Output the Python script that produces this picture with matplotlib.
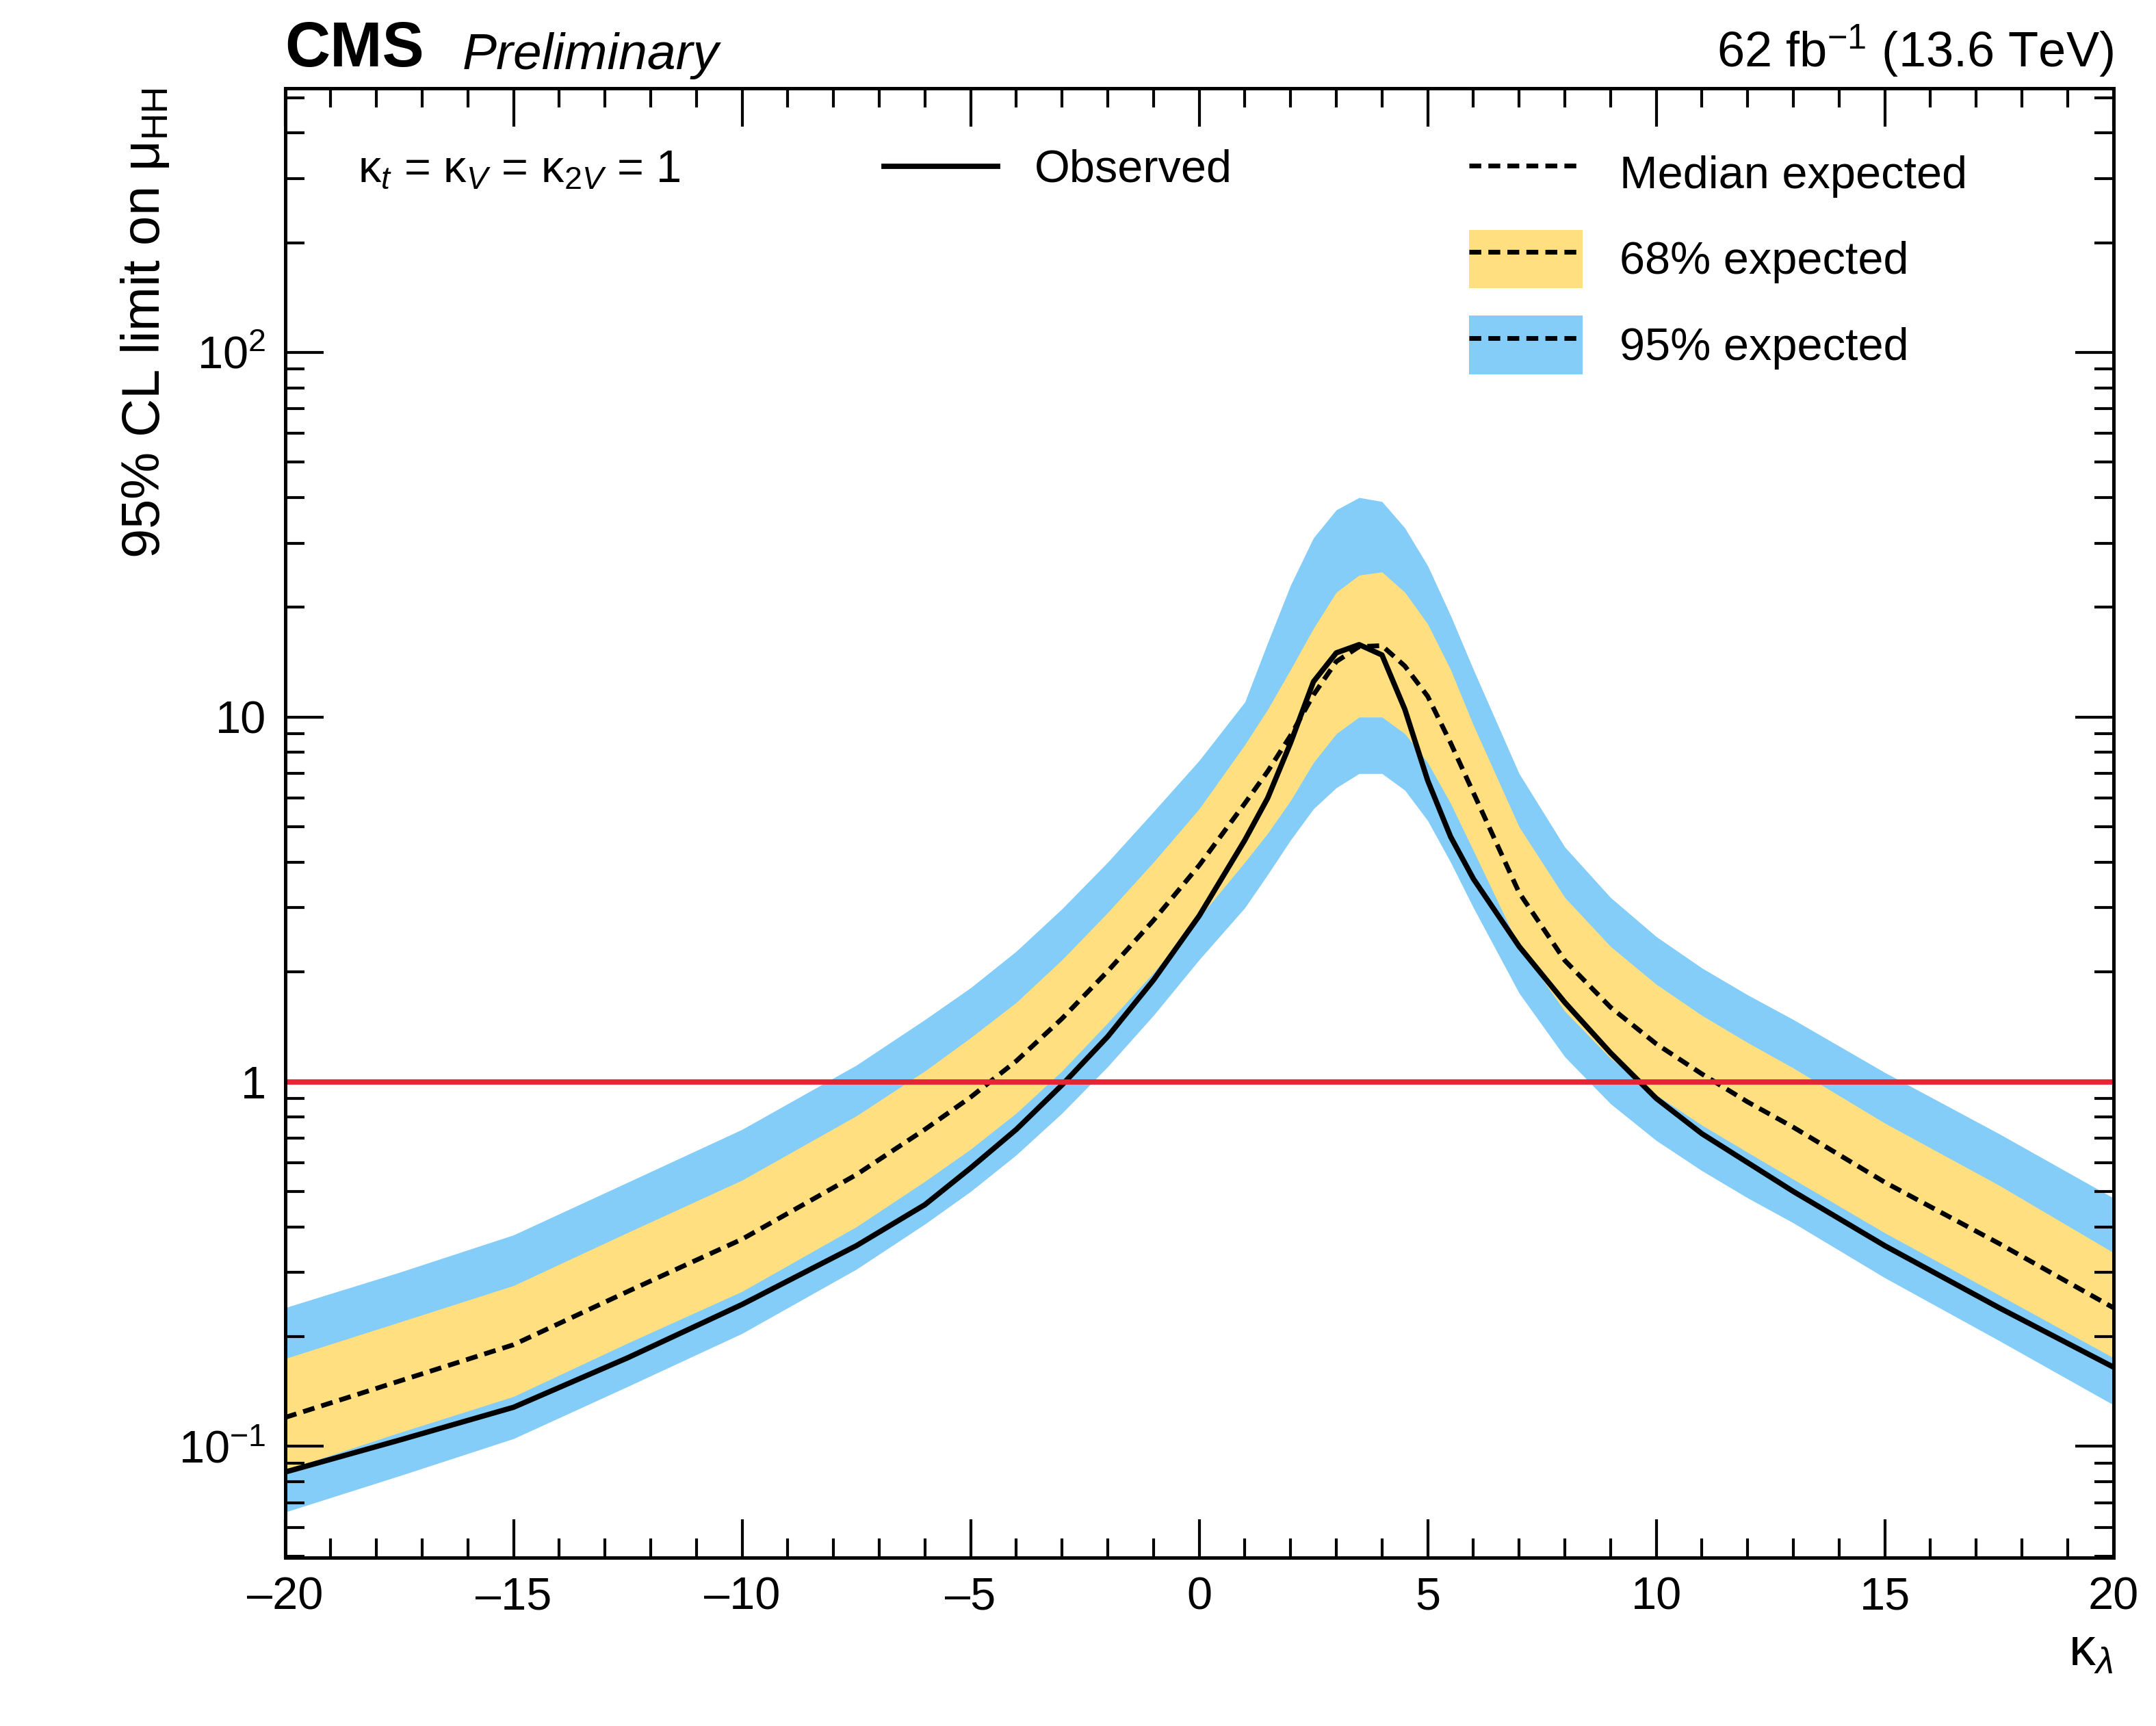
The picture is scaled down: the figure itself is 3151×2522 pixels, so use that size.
"""
"""

import numpy as np
import matplotlib.pyplot as plt
from matplotlib.lines import Line2D
from matplotlib.patches import Patch
from matplotlib.ticker import FixedLocator, FixedFormatter, LogLocator, MultipleLocator, NullFormatter

#Valores de kappa lambda
kl = [-20, -17.5, -15, -12.5, -10, -7.5, -6, -5, -4, -3, -2, -1, 0, 1, 1.5, 2, 2.5, 3, 3.5, 4, 4.5,
      5, 5.5, 6, 7, 8, 9, 10, 11, 12, 13, 15, 17.5, 20]

observed = [0.085, 0.104, 0.128, 0.175, 0.245, 0.355, 0.46, 0.58, 0.74, 0.98, 1.33, 1.9, 2.85, 4.6,
            6.0, 8.5, 12.5, 15.0, 15.8, 14.8, 10.5, 6.7, 4.7, 3.6, 2.35, 1.65, 1.2, 0.9, 0.72, 0.6,
            0.5, 0.355, 0.24, 0.165]
expected = [0.12, 0.151, 0.19, 0.266, 0.37, 0.556, 0.74, 0.907, 1.14, 1.49, 2.01, 2.77, 3.92, 5.8,
            7.1, 8.9, 11.5, 14.2, 15.6, 15.7, 13.8, 11.4, 8.5, 6.2, 3.3, 2.15, 1.6, 1.27, 1.05, 0.88,
            0.75, 0.53, 0.36, 0.24]
up68 = [0.174, 0.219, 0.276, 0.386, 0.537, 0.806, 1.07, 1.32, 1.65, 2.16, 2.91, 4.0, 5.6, 8.4, 10.5,
        13.5, 17.5, 22, 24.5, 25, 22, 18, 13.5, 9.5, 5.0, 3.2, 2.35, 1.85, 1.52, 1.28, 1.09, 0.77,
        0.52, 0.34]
down68 = [0.086, 0.109, 0.137, 0.192, 0.266, 0.40, 0.533, 0.653, 0.82, 1.07, 1.45, 1.99, 2.82, 4.0,
          4.8, 5.9, 7.5, 9.0, 10, 10, 9.0, 7.5, 5.8, 4.3, 2.35, 1.56, 1.16, 0.92, 0.76, 0.64, 0.54,
          0.385, 0.26, 0.175]
up95 = [0.24, 0.30, 0.38, 0.53, 0.74, 1.11, 1.48, 1.81, 2.28, 2.98, 4.0, 5.5, 7.6, 11, 16, 23, 31,
        37, 40, 39, 33, 26, 19, 13.5, 7.0, 4.4, 3.2, 2.5, 2.05, 1.73, 1.48, 1.06, 0.72, 0.48]
down95 = [0.066, 0.083, 0.105, 0.146, 0.204, 0.306, 0.407, 0.50, 0.63, 0.82, 1.1, 1.52, 2.16, 3.0,
          3.7, 4.6, 5.6, 6.4, 7.0, 7.0, 6.3, 5.2, 4.0, 3.0, 1.75, 1.17, 0.87, 0.69, 0.57, 0.48, 0.41,
          0.29, 0.195, 0.13]

plt.rcParams['font.family'] = ['Liberation Sans', 'DejaVu Sans']
plt.rcParams['mathtext.fontset'] = 'custom'
plt.rcParams['mathtext.rm'] = 'Liberation Sans'
plt.rcParams['mathtext.it'] = 'Liberation Sans:italic'


def LimitPlot(output_file):

    '''
    LimitPlot dibuja el limite al 95% CL sobre mu_HH en funcion de kappa lambda.

    Argumentos de la funcion:
    output_file (string): nombre del archivo PNG que crearemos.
    '''

    fig = plt.figure(figsize=(15.755, 12.61), dpi=200)
    ax = fig.add_axes([0.1322, 0.0975, 0.848, 0.8515])

    ax.fill_between(kl, down95, up95, color='#85cdf9', lw=0) #Banda 95%
    ax.fill_between(kl, down68, up68, color='#ffdf80', lw=0) #Banda 68%
    ax.plot(kl, expected, color='black', ls=(0, (2.5, 1.5)), lw=2.5)
    ax.plot(kl, observed, color='black', lw=2.8)
    ax.axhline(1, color='#e42536', lw=2.8)

    ax.set_yscale('log')
    ax.set_xlim(-20, 20)
    ax.set_ylim(0.0495, 531)

    #Ejes al estilo CMS
    ax.xaxis.set_major_locator(MultipleLocator(5))
    ax.xaxis.set_minor_locator(MultipleLocator(1))
    ax.xaxis.set_major_formatter(plt.FuncFormatter(lambda v, p: ('%d' % v).replace('-', '\u2013')))
    ax.yaxis.set_major_locator(FixedLocator([0.1, 1, 10, 100]))
    ax.yaxis.set_major_formatter(FixedFormatter([r'$10^{-1}$', '1', '10', r'$10^{2}$']))
    ax.yaxis.set_minor_locator(LogLocator(subs=np.arange(2, 10)))
    ax.yaxis.set_minor_formatter(NullFormatter())
    ax.tick_params(which='both', direction='in', top=True, right=True, labelsize=24, width=1.5)
    ax.tick_params(which='major', length=20, pad=10)
    ax.tick_params(which='minor', length=10)
    for s in ax.spines.values():
        s.set_linewidth(1.8)

    ax.set_xlabel('κ$_{λ}$', fontsize=28, loc='right')
    ax.set_ylabel('95% CL limit on μ$_{\\mathrm{HH}}$', fontsize=28, loc='top')

    ax.text(0, 1.006, 'CMS', transform=ax.transAxes, fontsize=33, fontweight='bold', va='bottom')
    ax.text(0.097, 1.006, 'Preliminary', transform=ax.transAxes, fontsize=27, style='italic', va='bottom')
    ax.text(1, 1.006, r'62 fb$^{-1}$ (13.6 TeV)', transform=ax.transAxes, fontsize=26, ha='right', va='bottom')
    ax.text(0.04, 0.944, 'κ$_{t}$ = κ$_{V}$ = κ$_{2V}$ = 1', transform=ax.transAxes,
            fontsize=24, va='center')

    #Leyendas
    obs = Line2D([], [], color='black', lw=2.8)
    leg1 = ax.legend([obs], ['Observed'], loc='center left', bbox_to_anchor=(0.305, 0.944),
                     frameon=False, fontsize=24, handlelength=2.5)
    ax.add_artist(leg1)
    dash = Line2D([], [], color='black', ls=(0, (2.5, 1.5)), lw=2.5)
    h68 = (Patch(color='#ffdf80', lw=0), dash)
    h95 = (Patch(color='#85cdf9', lw=0), dash)
    ax.legend([dash, h68, h95], ['Median expected', '68% expected', '95% expected'],
              loc='upper left', bbox_to_anchor=(0.625, 0.99), frameon=False, fontsize=24,
              handlelength=2.5, handleheight=1.6, labelspacing=0.6)

    plt.savefig(output_file)
    plt.close(fig)


LimitPlot('out.png')
